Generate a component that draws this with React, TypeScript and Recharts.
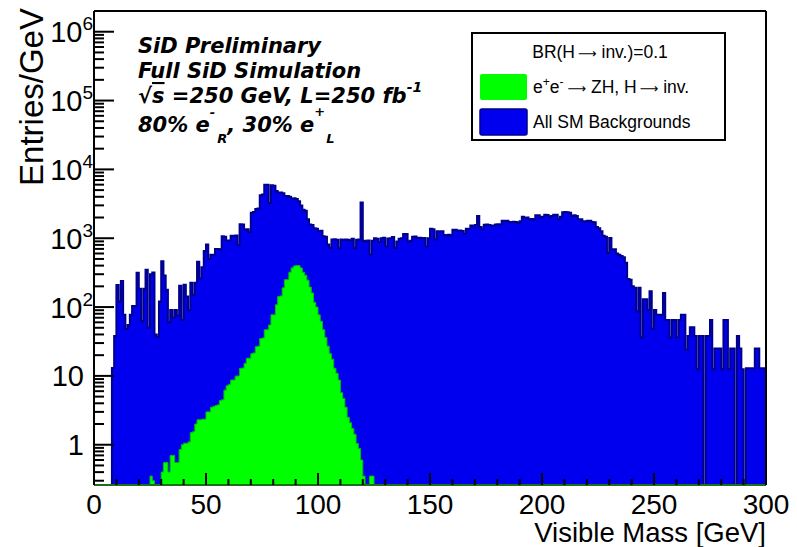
import React from "react";
import { Area, ComposedChart, XAxis, YAxis } from "recharts";

// visible mass histogram, 1 GeV bins from 0 to 300 GeV (entries / GeV)
const binEdges = Array.from({ length: 301 }, (_, i) => i);

const backgrounds = [
  0, 0, 0, 0, 0, 0, 0, 0, 13, 38,
  210, 120, 240, 77, 48, 55, 77, 104, 104, 316,
  184, 62, 184, 349, 50, 300, 318, 40, 37, 120,
  463, 287, 178, 60, 91, 70, 91, 75, 204, 65,
  211, 142, 90, 226, 150, 226, 455, 260, 380, 650,
  810, 500, 575, 575, 700, 700, 680, 1070, 1050, 925,
  930, 1090, 1080, 1100, 800, 1600, 1580, 1330, 1350, 1230,
  2350, 2400, 2650, 2700, 4200, 4300, 6000, 6000, 3250, 5900,
  5800, 4850, 4600, 4600, 4500, 4100, 4100, 4000, 3750, 3800,
  3700, 3450, 3000, 2600, 2500, 1880, 1580, 1550, 1400, 1370,
  1260, 1280, 1070, 1050, 810, 720, 960, 970, 950, 720,
  960, 940, 960, 950, 930, 980, 720, 950, 960, 3300,
  920, 900, 930, 580, 920, 1000, 980, 880, 1000, 1020,
  760, 990, 1000, 1040, 730, 900, 980, 1000, 1150, 1150,
  900, 920, 1050, 1060, 1010, 1020, 1000, 1010, 760, 1000,
  1370, 1350, 960, 1260, 1250, 1260, 1110, 1100, 1120, 1100,
  1330, 1330, 1280, 1300, 1270, 1160, 1370, 1360, 1530, 1500,
  1550, 2100, 1450, 1350, 1570, 1580, 1560, 1520, 1530, 1580,
  1600, 1580, 1790, 1780, 1800, 1720, 1700, 1730, 1720, 1650,
  1760, 2050, 1990, 2000, 1880, 1900, 1870, 2150, 2150, 2000,
  2050, 2200, 2180, 2050, 2100, 2200, 2190, 1880, 2050, 2380,
  2400, 2380, 2350, 2100, 2150, 2100, 1880, 1880, 1760, 1750,
  1800, 1790, 1720, 1700, 1460, 1400, 1260, 1090, 1050, 610,
  1010, 690, 690, 600, 575, 550, 530, 440, 255, 250,
  200, 190, 86, 190, 36, 130, 130, 91, 170, 49,
  91, 77, 77, 77, 160, 65, 65, 36, 65, 65,
  36, 65, 77, 77, 24, 38, 51, 51, 38, 12.5,
  38, 38, 0, 38, 38, 65, 12.5, 25, 25, 25,
  12.5, 65, 65, 12.5, 25, 25, 0, 38, 25, 12.5,
  0, 12.9, 12.9, 12.9, 12.9, 25, 25, 12.9, 12.9, 12.9,
];

const signal = [
  0, 0, 0, 0, 0, 0, 0, 0, 0, 0,
  0, 0, 0, 0, 0, 0, 0, 0, 0, 0,
  0, 0, 0, 0, 0, 0.35, 0.3, 0, 0, 0,
  0.4, 0.55, 0.55, 0.4, 0.7, 0.7, 0.55, 0.55, 0.85, 1.0,
  1.05, 1.05, 1.1, 1.5, 1.55, 2.0, 2.3, 2.3, 2.35, 2.35,
  3.0, 3.0, 3.5, 3.6, 3.7, 3.8, 4.4, 4.5, 6.2, 7.2,
  7.5, 8.7, 8.7, 9.9, 10, 12.9, 13, 15.2, 18, 18,
  21, 21.5, 26.6, 27, 35, 35.5, 46.7, 47, 55, 77,
  77, 108, 142, 145, 190, 250, 250, 320, 370, 395,
  400, 400, 370, 320, 290, 245, 195, 160, 117, 100,
  77, 62, 47, 36, 27, 21, 17.5, 12.9, 10.9, 8.7,
  5.7, 4.7, 3.5, 2.5, 2.08, 1.72, 1.42, 1.04, 0.88, 0.6,
  0.35, 0, 0, 0.35, 0.35, 0, 0, 0, 0, 0,
  ...new Array(170).fill(0),
];

const yMajor = [1, 10, 100, 1e3, 1e4, 1e5, 1e6];
const yMinor = [
  0.3, 0.4, 0.5, 0.6, 0.7, 0.8, 0.9,
  2, 3, 4, 5, 6, 7, 8, 9,
  20, 30, 40, 50, 60, 70, 80, 90,
  200, 300, 400, 500, 600, 700, 800, 900,
  2e3, 3e3, 4e3, 5e3, 6e3, 7e3, 8e3, 9e3,
  2e4, 3e4, 4e4, 5e4, 6e4, 7e4, 8e4, 9e4,
  2e5, 3e5, 4e5, 5e5, 6e5, 7e5, 8e5, 9e5,
];
const xTicks = [0, 10, 20, 30, 40, 50, 60, 70, 80, 90, 100, 110, 120, 130, 140, 150,
  160, 170, 180, 190, 200, 210, 220, 230, 240, 250, 260, 270, 280, 290, 300];

// empty bins sit below the log axis and get clipped away
const EMPTY = 1e-3;
const table = binEdges.map((x, i) => {
  const k = Math.min(i, backgrounds.length - 1);
  return {
    x,
    bkg: backgrounds[k] > 0 ? backgrounds[k] : EMPTY,
    sig: signal[k] > 0 ? signal[k] : EMPTY,
  };
});

const FONT = "'Liberation Sans', Arial, Helvetica, sans-serif";
const ARROW = "'DejaVu Sans', sans-serif";

function YTick(props: any) {
  const { x, y, payload } = props;
  const v = payload.value as number;
  const major = yMajor.includes(v);
  const exp = Math.round(Math.log10(v));
  return (
    <g>
      <line x1={x} x2={x + (major ? 20 : 10)} y1={y} y2={y} stroke="#000" strokeWidth={2} />
      {major && (v < 100 ? (
        <text x={x - 10} y={y} dy="0.36em" textAnchor="end" fontSize={29} fontFamily={FONT} fill="#000">
          {v}
        </text>
      ) : (
        <text x={x - 1} y={y} dy="0.36em" textAnchor="end" fontSize={29} fontFamily={FONT} fill="#000">
          10<tspan dy={-12} fontSize={19}>{exp}</tspan>
        </text>
      ))}
    </g>
  );
}

function XTick(props: any) {
  const { x, y, payload } = props;
  const v = payload.value as number;
  const major = v % 50 === 0;
  return (
    <g>
      <line x1={x} x2={x} y1={y} y2={y - (major ? 12 : 6)} stroke="#000" strokeWidth={2} />
      {major && (
        <text x={x} y={y + 29} textAnchor="middle" fontSize={28} fontFamily={FONT} fill="#000">
          {v}
        </text>
      )}
    </g>
  );
}

function Overlay() {
  const bi = { fontFamily: "'DejaVu Sans', sans-serif", fontWeight: 700, fontStyle: "italic", fontSize: 21 } as const;
  return (
    <svg width={797} height={547} style={{ position: "absolute", left: 0, top: 0, pointerEvents: "none" }}>
      <text transform="rotate(-90)" x={-8} y={43} textAnchor="end" fontSize={33} fontFamily={FONT}>
        Entries/GeV
      </text>
      <text x={766} y={542} textAnchor="end" fontSize={27.5} fontFamily={FONT}>
        Visible Mass [GeV]
      </text>

      <text x={138} y={53} {...bi}>SiD Preliminary</text>
      <text x={138} y={78} {...bi}>Full SiD Simulation</text>
      <text x={138} y={103} {...bi}>
        √<tspan textDecoration="overline">s</tspan> =250 GeV, L=250 fb
        <tspan dy={-11} fontSize={14}>-1</tspan>
      </text>
      <text x={138} y={132} {...bi}>
        80% e<tspan dy={-15} fontSize={13}>-</tspan>
        <tspan dx={2} dy={26} fontSize={13}>R</tspan>
        <tspan dy={-11}>, 30% e</tspan>
        <tspan dy={-16} fontSize={13}>+</tspan>
        <tspan dx={1} dy={27} fontSize={13}>L</tspan>
      </text>

      <rect x={472} y={33} width={253} height={107} fill="#fff" stroke="#000" strokeWidth={2} />
      <text x={600} y={58} textAnchor="middle" fontSize={17.5} fontFamily={FONT}>
        BR(H<tspan dx={3} fontFamily={ARROW} fontSize={13}>⟶</tspan> inv.)=0.1
      </text>
      <rect x={480} y={74} width={47} height={26} rx={2} fill="#00ff00" />
      <text x={533} y={93} fontSize={17.5} fontFamily={FONT}>
        e<tspan dy={-7} fontSize={12}>+</tspan>
        <tspan dy={7}>e</tspan>
        <tspan dy={-7} fontSize={12}>-</tspan>
        <tspan dx={4} dy={7} fontFamily={ARROW} fontSize={13}>⟶</tspan>
        <tspan> ZH, H</tspan>
        <tspan dx={3} fontFamily={ARROW} fontSize={13}>⟶</tspan>
        <tspan> inv.</tspan>
      </text>
      <rect x={480} y={109} width={47} height={26} rx={2} fill="#0000ee" stroke="#00008c" strokeWidth={1.5} />
      <text x={533} y={128} fontSize={17.5} fontFamily={FONT}>
        All SM Backgrounds
      </text>
    </svg>
  );
}

export default function App() {
  return (
    <div style={{ position: "absolute", left: 0, top: 0, width: 797, height: 547, background: "#fff" }}>
      <ComposedChart
        width={797}
        height={547}
        data={table}
        margin={{ top: 10, right: 30, bottom: 61, left: 93 }}
      >
        <Area
          type="stepAfter"
          dataKey="bkg"
          baseValue="dataMin"
          fill="#0000ee"
          fillOpacity={1}
          stroke="#00008c"
          strokeWidth={2}
          isAnimationActive={false}
        />
        <Area
          type="stepAfter"
          dataKey="sig"
          baseValue="dataMin"
          fill="#00ff00"
          fillOpacity={1}
          stroke="#00c000"
          strokeWidth={1}
          isAnimationActive={false}
        />
        <XAxis
          dataKey="x"
          type="number"
          domain={[0, 300]}
          ticks={xTicks}
          interval={0}
          height={1}
          tickSize={0}
          tickMargin={0}
          tick={<XTick />}
          axisLine={{ stroke: "#1b6e1b", strokeWidth: 2 }}
          allowDataOverflow
        />
        <XAxis xAxisId="top" orientation="top" dataKey="x" type="number" domain={[0, 300]}
          height={1} tick={false} tickLine={false} axisLine={{ stroke: "#000", strokeWidth: 2 }} />
        <YAxis
          scale="log"
          type="number"
          domain={[0.26, 2e6]}
          ticks={[...yMinor, ...yMajor].sort((a, b) => a - b)}
          interval={0}
          width={1}
          tickSize={0}
          tickMargin={0}
          tick={<YTick />}
          axisLine={{ stroke: "#000", strokeWidth: 2 }}
          allowDataOverflow
        />
        <YAxis yAxisId="right" orientation="right" scale="log" type="number" domain={[0.26, 2e6]}
          width={1} tick={false} tickLine={false} axisLine={{ stroke: "#000", strokeWidth: 2 }} allowDataOverflow />
      </ComposedChart>
      <Overlay />
    </div>
  );
}
